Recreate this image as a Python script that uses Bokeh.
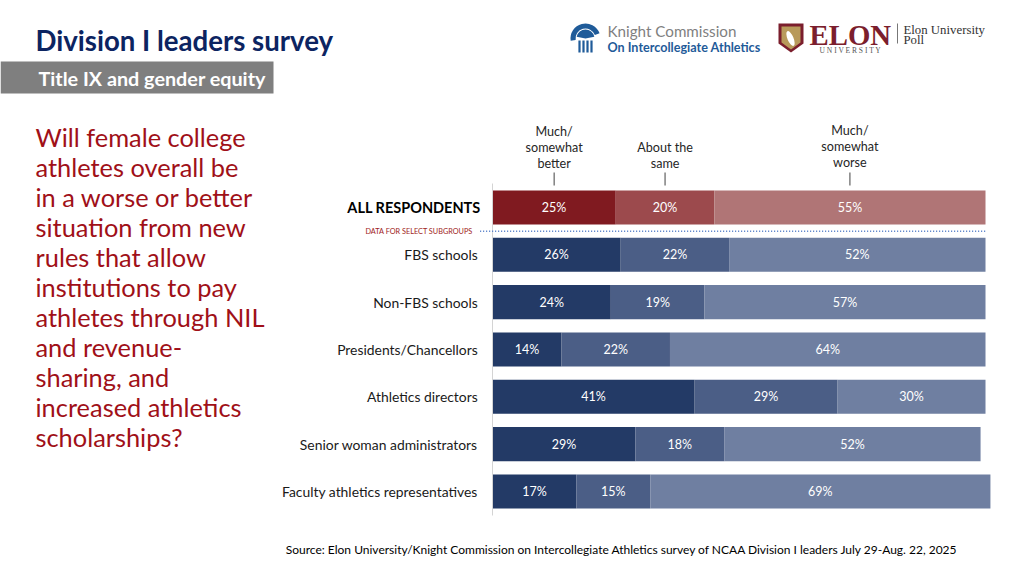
from bokeh.plotting import figure
from bokeh.models import Range1d, ColumnDataSource
from bokeh.core.properties import value
from bokeh.embed import file_html
from bokeh.resources import INLINE

# ---------------- data ----------------
groups = ["ALL RESPONDENTS", "FBS schools", "Non-FBS schools", "Presidents/Chancellors",
          "Athletics directors", "Senior woman administrators", "Faculty athletics representatives"]
better = [25, 26, 24, 14, 41, 29, 17]
same = [20, 22, 19, 22, 29, 18, 15]
worse = [55, 52, 57, 64, 30, 52, 69]
response_labels = ["Much/\nsomewhat\nbetter", "About the\nsame", "Much/\nsomewhat\nworse"]

all_colors = ["#801a20", "#9c4a4d", "#b07576"]
sub_colors = ["#233a66", "#4b5e86", "#6f7fa1"]

title_text = "Division I leaders survey"
subtitle_text = "Title IX and gender equity"
question_lines = ["Will female college", "athletes overall be", "in a worse or better",
                  "situation from new", "rules that allow", "institutions to pay",
                  "athletes through NIL", "and revenue-", "sharing, and",
                  "increased athletics", "scholarships?"]
source_text = ("Source: Elon University/Knight Commission on Intercollegiate Athletics survey "
               "of NCAA Division I leaders July 29-Aug. 22, 2025")

FONT = value("Lato")

# ---------------- figure (frame covers whole canvas, pixel coords by default) ----------------
W, H = 1008, 560
p = figure(width=W, height=H, output_backend="svg", toolbar_location=None,
           x_range=Range1d(0, W), y_range=Range1d(H, 0),
           x_axis_location=None, y_axis_location=None, min_border=0,
           background_fill_color="white", border_fill_color="white")
p.outline_line_color = None
p.xgrid.visible = False
p.ygrid.visible = False

# percent scale: 0% at pixel 492, 4.93 px per %
px0, ppp = 492.0, 4.93
p.extra_x_ranges = {"pct": Range1d((0 - px0) / ppp, (W - px0) / ppp)}
# row scale: row 0 centred at pixel 207, 47.33 px per row
py0, ppr = 207.0, 47.33
p.extra_y_ranges = {"row": Range1d((H - py0) / ppr, (0 - py0) / ppr)}

# ---------------- bars ----------------
ys, lefts, rights, colors, labs, mids = [], [], [], [], [], []
for i, g in enumerate(groups):
    vals = [better[i], same[i], worse[i]]
    pal = all_colors if i == 0 else sub_colors
    start = 0
    for k, v in enumerate(vals):
        ys.append(i)
        lefts.append(start)
        rights.append(start + v)
        colors.append(pal[k])
        labs.append(f"{v}%")
        mids.append(start + v / 2)
        start += v

src = ColumnDataSource(dict(y=ys, left=lefts, right=rights, color=colors, lab=labs, mid=mids))
p.hbar(y="y", left="left", right="right", height=0.72, fill_color="color", line_color=None,
       source=src, x_range_name="pct", y_range_name="row")
p.text(x="mid", y="y", text="lab", source=src, x_range_name="pct", y_range_name="row",
       text_color="white", text_font=FONT, text_font_size="12.5px",
       text_align="center", text_baseline="middle")

# vertical baseline axis line
p.segment(x0=[0], x1=[0], y0=[183], y1=[515], x_range_name="pct",
          line_color="#d4d4d4", line_width=1)

# group labels
p.text(x=[-2.4], y=[0], text=[groups[0]], x_range_name="pct", y_range_name="row",
       text_color="black", text_font=FONT, text_font_style="bold", text_font_size="14.5px",
       text_align="right", text_baseline="middle")
p.text(x=[-3.0] * (len(groups) - 1), y=list(range(1, len(groups))), text=groups[1:],
       x_range_name="pct", y_range_name="row",
       text_color="#1a1a1a", text_font=FONT, text_font_size="13.9px",
       text_align="right", text_baseline="middle")

# subgroup separator
p.segment(x0=[-2.5], x1=[100], y0=[0.5], y1=[0.5], x_range_name="pct", y_range_name="row",
          line_color="#4472c4", line_width=1.5, line_dash="1 2")
p.text(x=[-4.0], y=[0.5], text=["DATA FOR SELECT SUBGROUPS"], x_range_name="pct", y_range_name="row",
       text_color="#a01c22", text_font=FONT, text_font_size="7.3px",
       text_align="right", text_baseline="middle")

# response headers, centred over the ALL RESPONDENTS segments
hdr_x = mids[0:3]
p.text(x=hdr_x, y=[170, 170, 169], text=response_labels, x_range_name="pct",
       text_color="#262626", text_font=FONT, text_font_size="12.6px", text_line_height=1.05,
       text_align="center", text_baseline="bottom")
p.segment(x0=hdr_x, x1=hdr_x, y0=[172] * 3, y1=[185] * 3, x_range_name="pct",
          line_color="#404040", line_width=1)

# ---------------- headings ----------------
p.text(x=[35], y=[40], text=[title_text], text_color="#0c2461", text_font=FONT,
       text_font_style="bold", text_font_size="27.6px", text_baseline="middle")
p.quad(left=[0], right=[273], top=[61], bottom=[93], fill_color="#7f7f7f", line_color=None)
p.text(x=[38], y=[77], text=[subtitle_text], text_color="white", text_font=FONT,
       text_font_style="bold", text_font_size="19.8px", text_baseline="middle")

p.text(x=[35] * len(question_lines), y=[136 + 30 * i for i in range(len(question_lines))],
       text=question_lines, text_color="#a01018", text_font=FONT, text_font_size="25.4px",
       text_baseline="middle")

p.text(x=[958], y=[549], text=[source_text], text_color="black",
       text_font=FONT, text_font_size="12px",
       text_align="right", text_baseline="middle")

# ---------------- logos ----------------
# Knight Commission dome icon
p.annular_wedge(x=[585], y=[38], inner_radius=10, outer_radius=15, start_angle=0.35,
                end_angle=3.3, fill_color="#1f5b99", line_color=None, direction="anticlock")
p.wedge(x=[585], y=[38], radius=9, start_angle=0.2, end_angle=2.95,
        fill_color="#1f5b99", line_color=None, direction="anticlock")
p.vbar(x=[579, 583, 587, 591], width=2.2, bottom=[52] * 4, top=[40] * 4,
       fill_color="#1f5b99", line_color=None)
p.text(x=[607], y=[30], text=["Knight Commission"], text_color="#7f7f7f",
       text_font=FONT, text_font_size="15.2px", text_baseline="middle")
p.text(x=[607], y=[47], text=["On Intercollegiate  Athletics"], text_color="#1f5b99",
       text_font=FONT, text_font_style="bold",
       text_font_size="12.6px", text_baseline="middle")

# Elon shield
p.patch(x=[778, 803, 803, 790.5, 778], y=[23, 23, 43, 52, 43], fill_color="#7b1e2d", line_color=None)
p.patch(x=[781, 800, 800, 790.5, 781], y=[26, 26, 42, 49, 42], fill_color="#b89a5b", line_color=None)
p.ellipse(x=[790], y=[38], width=6, height=16, angle=0.4, fill_color="white", line_color=None)
p.text(x=[809], y=[34], text=["ELON"], text_color="#7b1e2d", text_font=value("Liberation Serif"),
       text_font_style="bold", text_font_size="28.8px", text_baseline="middle")
p.text(x=[850], y=[49.5], text=["U N I V E R S I T Y"], text_color="#555555",
       text_font=value("Liberation Serif"), text_font_size="7.5px",
       text_align="center", text_baseline="middle")
p.segment(x0=[897], x1=[897], y0=[23], y1=[43], line_color="#777777", line_width=1)
p.text(x=[903, 903], y=[29, 39.5], text=["Elon University", "Poll"], text_color="#333333",
       text_font=value("Liberation Serif"), text_font_size="12.8px", text_baseline="middle")

open("out.html", "w").write(file_html(p, INLINE))
